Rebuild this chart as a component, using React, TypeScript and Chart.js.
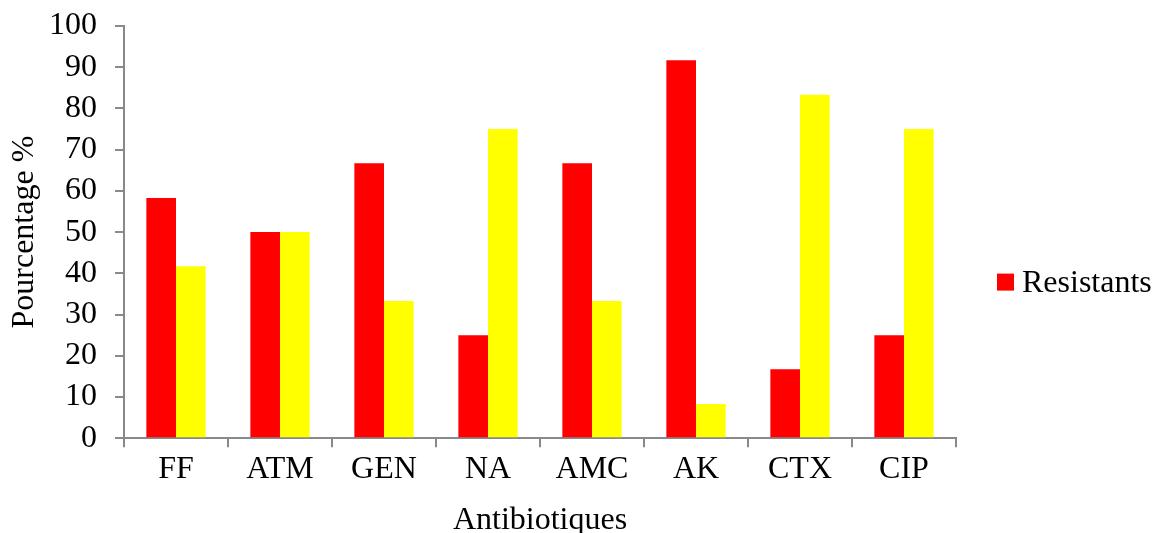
import React, { useEffect, useRef } from "react";
import { Chart, registerables } from "chart.js";

Chart.register(...registerables);

const categories = ["FF", "ATM", "GEN", "NA", "AMC", "AK", "CTX", "CIP"];
const resistants = [58.3, 50, 66.7, 25, 66.7, 91.7, 16.7, 25];
const sensibles = [41.7, 50, 33.3, 75, 33.3, 8.3, 83.3, 75];
const seriesNames = ["Resistants", "Sensibles"];
const legendSeries = [0];
const yTicksMin = 0;
const yTicksMax = 100;
const yTicksStep = 10;

const FONT = '"Liberation Serif", "Times New Roman", serif';
const AXIS = "#898989";

const sideLegend = {
  id: "sideLegend",
  afterDraw(chart: any) {
    const { ctx, chartArea } = chart;
    const x = chartArea.right + 41;
    const yc = (chartArea.top + chartArea.bottom) / 2 + 50;
    ctx.save();
    legendSeries.forEach((idx, i) => {
      const ds = chart.data.datasets[idx];
      const y = yc + i * 40;
      ctx.fillStyle = ds.backgroundColor;
      ctx.fillRect(x, y - 8.5, 17, 17);
      ctx.fillStyle = "#000";
      ctx.font = `32px ${FONT}`;
      ctx.textBaseline = "middle";
      ctx.textAlign = "left";
      ctx.fillText(ds.label, x + 25, y + 1);
    });
    ctx.restore();
  },
};

export default function App() {
  const ref = useRef<HTMLCanvasElement | null>(null);

  useEffect(() => {
    if (!ref.current) return;
    const chart = new Chart(ref.current, {
      type: "bar",
      data: {
        labels: categories,
        datasets: [
          {
            label: seriesNames[0],
            data: resistants,
            backgroundColor: "#ff0000",
            borderWidth: 0,
            barPercentage: 1,
            categoryPercentage: 0.57,
          },
          {
            label: seriesNames[1],
            data: sensibles,
            backgroundColor: "#ffff00",
            borderWidth: 0,
            barPercentage: 1,
            categoryPercentage: 0.57,
          },
        ],
      },
      options: {
        responsive: false,
        animation: false,
        devicePixelRatio: 1,
        color: "#000",
        layout: { padding: { top: 26, bottom: -7, left: 0, right: 196 } },
        plugins: {
          tooltip: { enabled: false },
          legend: { display: false },
        },
        scales: {
          x: {
            grid: {
              display: true,
              drawOnChartArea: false,
              drawTicks: true,
              tickLength: 9,
              color: AXIS,
              lineWidth: 2,
            },
            border: { display: true, color: AXIS, width: 2 },
            ticks: {
              color: "#000",
              padding: 3,
              font: { family: FONT, size: 32 },
              maxRotation: 0,
              autoSkip: false,
            },
            title: {
              display: true,
              text: "Antibiotiques",
              color: "#000",
              font: { family: FONT, size: 32 },
              padding: { top: 10, bottom: 0 },
            },
          },
          y: {
            min: yTicksMin,
            max: yTicksMax,
            grid: {
              display: true,
              drawOnChartArea: false,
              drawTicks: true,
              tickLength: 9,
              color: AXIS,
              lineWidth: 2,
            },
            border: { display: true, color: AXIS, width: 2 },
            ticks: {
              stepSize: yTicksStep,
              color: "#000",
              padding: 18,
              autoSkip: false,
              font: { family: FONT, size: 32 },
            },
            title: {
              display: true,
              text: "Pourcentage %",
              color: "#000",
              font: { family: FONT, size: 32 },
              padding: { top: 5, bottom: 0 },
            },
            afterFit: (scale: any) => {
              scale.width = 124;
              scale.paddingTop = 0;
              scale.paddingBottom = 0;
            },
          },
        },
      },
      plugins: [sideLegend],
    });
    return () => chart.destroy();
  }, []);

  return (
    <div style={{ position: "absolute", left: 0, top: 0, width: 1152, height: 533, background: "#fff" }}>
      <canvas ref={ref} width={1152} height={533} style={{ display: "block" }} />
    </div>
  );
}
